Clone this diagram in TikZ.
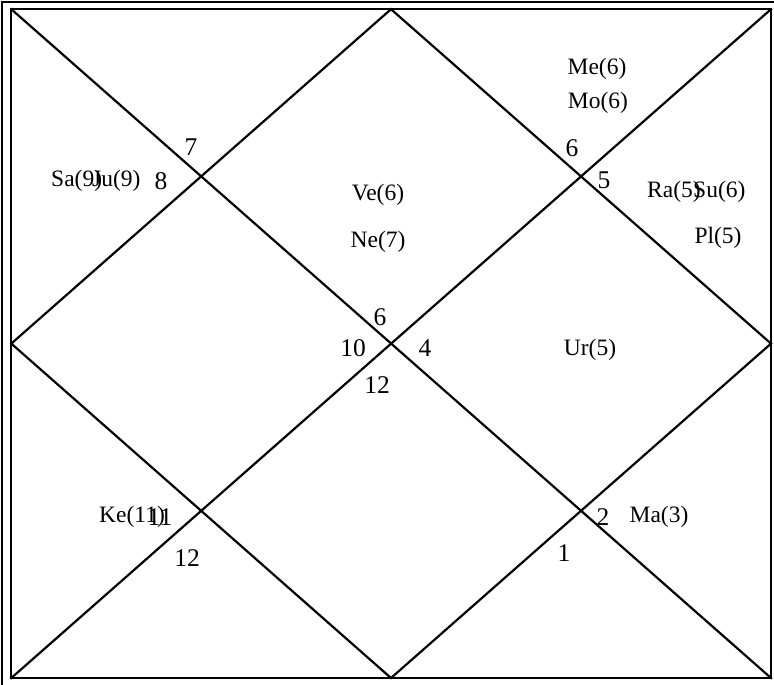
\documentclass[tikz,border=0pt]{standalone}
\usepackage{fontspec}
\setmainfont{Liberation Serif}
\begin{document}
\begin{tikzpicture}[x=1pt,y=-1pt,
  ln/.style={line width=2.2pt,line cap=rect},
  pl/.style={inner sep=0pt,font=\fontsize{23.5}{26}\selectfont},
  hn/.style={inner sep=0pt,font=\fontsize{25.5}{28}\selectfont}]
\useasboundingbox (0,0) rectangle (774,685);
% outer frame
\draw[ln] (2,690) -- (2,1.8) -- (780,1.8);
% inner frame
\coordinate (tl) at (11.3,9.2);
\coordinate (tr) at (771,9.2);
\coordinate (br) at (771,678);
\coordinate (bl) at (11.3,678);
\coordinate (tm) at (391,9.2);
\coordinate (rm) at (771,343.6);
\coordinate (bm) at (391,678);
\coordinate (lm) at (11.3,343.6);
\draw[ln] (tl) -- (tr) -- (br) -- (bl) -- cycle;
\draw[ln] (tl) -- (br);
\draw[ln] (tr) -- (bl);
\draw[ln] (tm) -- (rm) -- (bm) -- (lm) -- cycle;
% house numbers
\node[hn] (h7) at (191,147) {7};
\node[hn] (h8) at (161,181) {8};
\node[hn] (h6a) at (572,148) {6};
\node[hn] (h5) at (604,180) {5};
\node[hn] (h6b) at (380,317) {6};
\node[hn] (h10) at (353,348) {10};
\node[hn] (h4) at (425,348) {4};
\node[hn] (h12a) at (377,385) {12};
\node[hn] (h11) at (160,517) {11};
\node[hn] (h12b) at (187,558) {12};
\node[hn] (h2) at (603,517) {2};
\node[hn] (h1) at (564,553) {1};
% planets
\node[pl,anchor=west] (sa) at (51,181) {Sa(9)};
\node[pl,anchor=west] (ju) at (92,181) {Ju(9)};
\node[pl] (me) at (597,69) {Me(6)};
\node[pl] (mo) at (598,103) {Mo(6)};
\node[pl] (ve) at (378,195) {Ve(6)};
\node[pl] (ne) at (378,242) {Ne(7)};
\node[pl,anchor=west] (ra) at (647,192) {Ra(5)};
\node[pl,anchor=west] (su) at (693,192) {Su(6)};
\node[pl] (plu) at (718,238) {Pl(5)};
\node[pl] (ur) at (590,350) {Ur(5)};
\node[pl,anchor=west] (ke) at (99,517) {Ke(11)};
\node[pl] (ma) at (659,517) {Ma(3)};
\end{tikzpicture}
\end{document}
